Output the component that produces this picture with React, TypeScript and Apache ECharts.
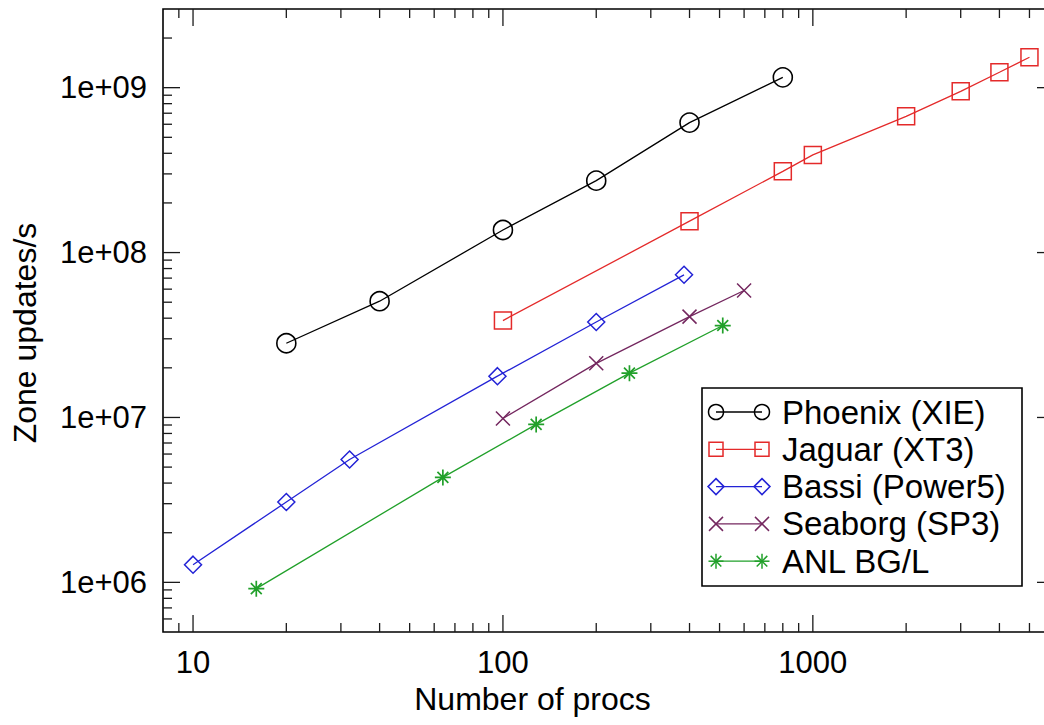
import React, { useEffect, useRef } from "react";
import * as echarts from "echarts";

// ---------- data ----------
const seriesNames = ["Phoenix (XIE)", "Jaguar (XT3)", "Bassi (Power5)", "Seaborg (SP3)", "ANL BG/L"];

const phoenixProcs = [20, 40, 100, 200, 400, 800];
const phoenixRate = [2.82e7, 5.07e7, 1.37e8, 2.73e8, 6.14e8, 1.155e9];

const jaguarProcs = [100, 400, 800, 1000, 2000, 3000, 4000, 5000];
const jaguarRate = [3.87e7, 1.55e8, 3.11e8, 3.91e8, 6.7e8, 9.5e8, 1.24e9, 1.53e9];

const bassiProcs = [10, 20, 32, 96, 200, 384];
const bassiRate = [1.28e6, 3.07e6, 5.56e6, 1.78e7, 3.79e7, 7.33e7];

const seaborgProcs = [100, 200, 400, 600];
const seaborgRate = [9.86e6, 2.13e7, 4.09e7, 5.89e7];

const anlProcs = [16, 64, 128, 256, 512];
const anlRate = [9.16e5, 4.33e6, 9.08e6, 1.857e7, 3.61e7];

const xMajorTicks = [10, 100, 1000];
const xMinorTicks = [9, 20, 30, 40, 50, 60, 70, 80, 90, 200, 300, 400, 500, 600, 700, 800, 900, 2000, 3000, 4000, 5000];
const yMajorTicks = [1e6, 1e7, 1e8, 1e9];
const yMinorTicks = [
  6e5, 7e5, 8e5, 9e5,
  2e6, 3e6, 4e6, 5e6, 6e6, 7e6, 8e6, 9e6,
  2e7, 3e7, 4e7, 5e7, 6e7, 7e7, 8e7, 9e7,
  2e8, 3e8, 4e8, 5e8, 6e8, 7e8, 8e8, 9e8,
  2e9,
];

const xName = "Number of procs";
const yName = "Zone updates/s";

// ---------- styles ----------
const FONT = "'Liberation Sans', Arial, Helvetica, sans-serif";
const colors = ["#000000", "#e42a2a", "#2323d6", "#74275f", "#21a02a"];
const X_PATH = "path://M0,0L10,10M10,0L0,10";
const STAR_PATH = "path://M5,0L5,10M0,5L10,5M1.6,1.6L8.4,8.4M8.4,1.6L1.6,8.4";

export default function App() {
  const ref = useRef<HTMLDivElement>(null);

  useEffect(() => {
    if (!ref.current) return;
    const chart = echarts.init(ref.current, undefined, { renderer: "svg" });

    const pairs = (xs: number[], ys: number[]) => xs.map((x, i) => [x, ys[i]]);
    const seriesData = [
      pairs(phoenixProcs, phoenixRate),
      pairs(jaguarProcs, jaguarRate),
      pairs(bassiProcs, bassiRate),
      pairs(seaborgProcs, seaborgRate),
      pairs(anlProcs, anlRate),
    ];
    const symbols = ["circle", "rect", "diamond", X_PATH, STAR_PATH];
    const sizes = [19, 17, 17, 14, 16];
    const borderW = [1.6, 1.5, 1.5, 1.5, 1.7];

    const tickData: number[][] = [];
    xMajorTicks.forEach((v) => tickData.push([v, 1e6, 0, 1]));
    xMinorTicks.forEach((v) => tickData.push([v, 1e6, 0, 0]));
    yMajorTicks.forEach((v) => tickData.push([10, v, 1, 1]));
    yMinorTicks.forEach((v) => tickData.push([10, v, 1, 0]));

    const isPow10 = (v: number) => {
      const l = Math.log10(v);
      return Math.abs(l - Math.round(l)) < 1e-6;
    };

    const lineSeries = seriesData.map((d, i) => ({
      type: "line",
      name: seriesNames[i],
      data: d,
      symbol: symbols[i],
      symbolSize: sizes[i],
      showAllSymbol: true,
      lineStyle: { color: colors[i], width: 1.3 },
      itemStyle: { color: "none", borderColor: colors[i], borderWidth: borderW[i] },
      emphasis: { disabled: true },
      z: 3,
    }));

    const tickStyle = { stroke: "#1a1a1a", lineWidth: 1.3 };
    const tickSeries = {
      type: "custom",
      silent: true,
      data: tickData,
      encode: { x: 0, y: 1 },
      z: 2,
      clip: false,
      renderItem: (params: any, api: any) => {
        const cs = params.coordSys;
        const isY = api.value(2) === 1;
        const len = api.value(3) === 1 ? 17 : 9;
        const p = api.coord([api.value(0), api.value(1)]);
        if (!isY) {
          const px = p[0];
          const bottom = cs.y + cs.height;
          return {
            type: "group",
            children: [
              { type: "line", shape: { x1: px, y1: bottom, x2: px, y2: bottom - len }, style: tickStyle },
              { type: "line", shape: { x1: px, y1: cs.y, x2: px, y2: cs.y + len }, style: tickStyle },
            ],
          };
        }
        const py = p[1];
        const right = cs.x + cs.width;
        return {
          type: "group",
          children: [
            { type: "line", shape: { x1: cs.x, y1: py, x2: cs.x + len, y2: py }, style: tickStyle },
            { type: "line", shape: { x1: right, y1: py, x2: right - len, y2: py }, style: tickStyle },
          ],
        };
      },
    };

    // legend (drawn as graphic)
    const lgX = 702, lgY = 388, lgW = 320, lgH = 198;
    const rowY0 = 412, rowDy = 37.3;
    const symL = 716, symR = 762, textX = 782;
    const legendMarker = (i: number, cx: number, cy: number) => {
      const st = { stroke: colors[i], fill: "none", lineWidth: 1.5 };
      if (i === 0) return { type: "circle", shape: { cx, cy, r: 7.5 }, style: st };
      if (i === 1) return { type: "rect", shape: { x: cx - 7, y: cy - 7, width: 14, height: 14 }, style: st };
      if (i === 2)
        return { type: "polygon", shape: { points: [[cx, cy - 8], [cx + 8, cy], [cx, cy + 8], [cx - 8, cy]] }, style: st };
      if (i === 3)
        return {
          type: "group",
          children: [
            { type: "line", shape: { x1: cx - 7, y1: cy - 7, x2: cx + 7, y2: cy + 7 }, style: st },
            { type: "line", shape: { x1: cx + 7, y1: cy - 7, x2: cx - 7, y2: cy + 7 }, style: st },
          ],
        };
      return {
        type: "group",
        children: [
          { type: "line", shape: { x1: cx, y1: cy - 7.5, x2: cx, y2: cy + 7.5 }, style: st },
          { type: "line", shape: { x1: cx - 7.5, y1: cy, x2: cx + 7.5, y2: cy }, style: st },
          { type: "line", shape: { x1: cx - 5.3, y1: cy - 5.3, x2: cx + 5.3, y2: cy + 5.3 }, style: st },
          { type: "line", shape: { x1: cx + 5.3, y1: cy - 5.3, x2: cx - 5.3, y2: cy + 5.3 }, style: st },
        ],
      };
    };
    const legendChildren: any[] = [
      { type: "rect", shape: { x: lgX, y: lgY, width: lgW, height: lgH }, style: { fill: "#fff", stroke: "#000", lineWidth: 1.6 } },
    ];
    seriesNames.forEach((name, i) => {
      const cy = rowY0 + i * rowDy;
      legendChildren.push({
        type: "line",
        shape: { x1: symL, y1: cy, x2: symR, y2: cy },
        style: { stroke: colors[i], lineWidth: 1.3 },
      });
      legendChildren.push(legendMarker(i, symL, cy));
      legendChildren.push(legendMarker(i, symR, cy));
      legendChildren.push({
        type: "text",
        x: textX,
        y: cy,
        style: { text: name, fill: "#000", font: `33px ${FONT}`, textVerticalAlign: "middle", verticalAlign: "middle" },
      });
    });

    chart.setOption({
      animation: false,
      backgroundColor: "#fff",
      textStyle: { fontFamily: FONT },
      grid: {
        left: 163,
        top: 9,
        width: 891,
        height: 623,
        outerBoundsMode: "none",
        containLabel: false,
        show: true,
        borderColor: "#000",
        borderWidth: 1.6,
        backgroundColor: "transparent",
      },
      xAxis: {
        type: "log",
        min: 8,
        max: 6000,
        logBase: 10,
        name: xName,
        nameLocation: "middle",
        nameGap: 50,
        nameTextStyle: { fontSize: 32, color: "#000", fontFamily: FONT, padding: [0, 152, 0, 0] },
        axisLine: { show: false },
        axisTick: { show: false },
        splitLine: { show: false },
        minorTick: { show: false },
        axisLabel: {
          fontSize: 31,
          color: "#000",
          fontFamily: FONT,
          margin: 15,
          formatter: (v: number) => (isPow10(v) ? String(Math.round(v)) : ""),
        },
      },
      yAxis: {
        type: "log",
        min: 5e5,
        max: 3e9,
        logBase: 10,
        name: yName,
        nameLocation: "middle",
        nameGap: 122,
        nameTextStyle: { fontSize: 32, color: "#000", fontFamily: FONT, padding: [0, 25, 0, 0] },
        axisLine: { show: false },
        axisTick: { show: false },
        splitLine: { show: false },
        minorTick: { show: false },
        axisLabel: {
          fontSize: 31,
          color: "#000",
          fontFamily: FONT,
          margin: 16,
          formatter: (v: number) => {
            if (!isPow10(v)) return "";
            const e = Math.round(Math.log10(v));
            return "1e+" + (e < 10 ? "0" + e : String(e));
          },
        },
      },
      series: [tickSeries, ...lineSeries],
      graphic: [{ type: "group", z: 100, children: legendChildren }],
    });

    return () => chart.dispose();
  }, []);

  return (
    <div
      ref={ref}
      style={{ position: "fixed", left: 0, top: 0, width: 1064, height: 725, background: "#fff" }}
    />
  );
}
